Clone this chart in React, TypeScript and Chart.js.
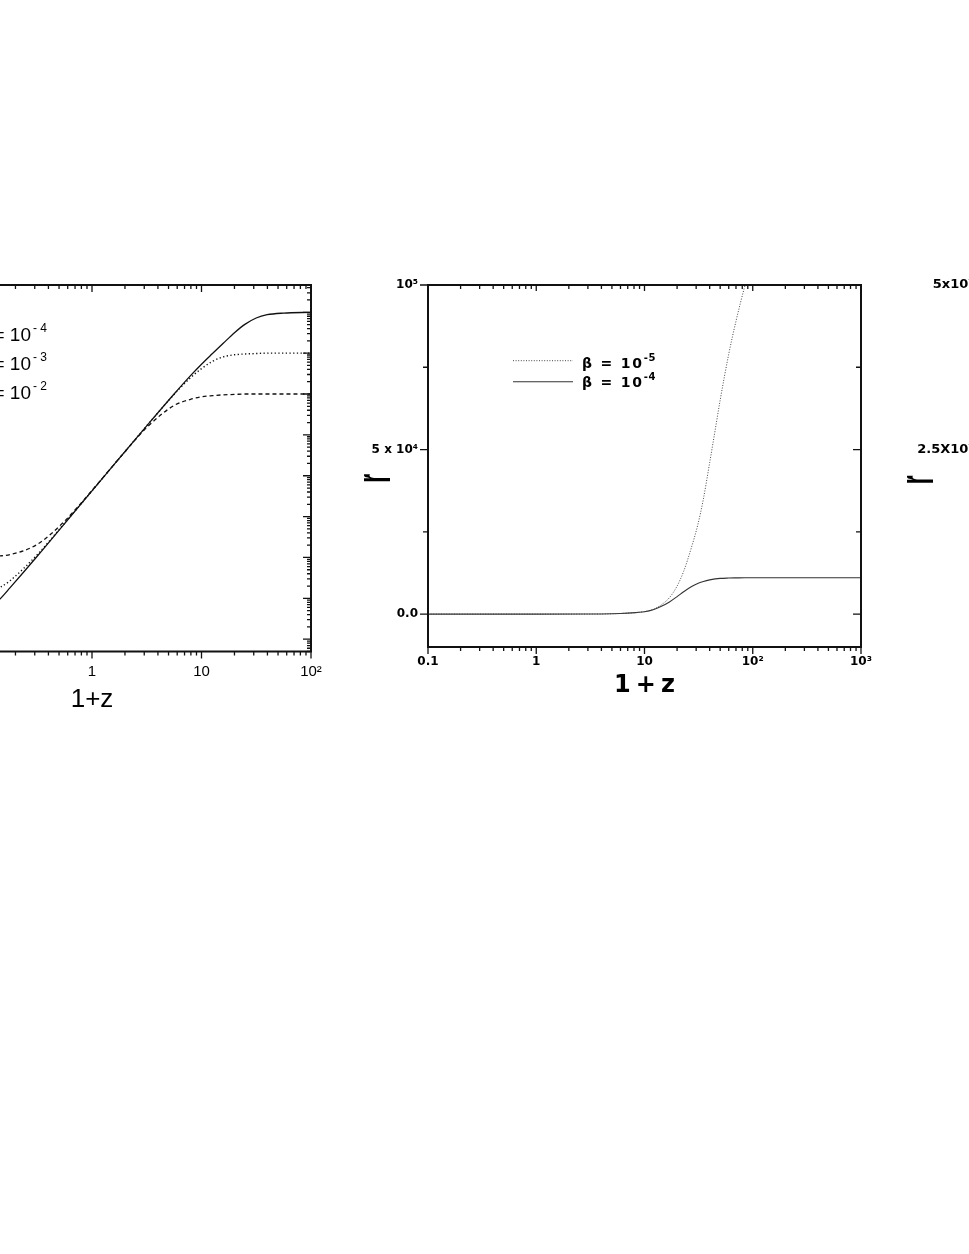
import React, { useEffect, useRef } from 'react';
import { Chart, registerables } from 'chart.js';
Chart.register(...registerables);

// ---------------- Left panel data (log-log) ----------------
const leftZ = [0.01, 0.0178, 0.0316, 0.0562, 0.1, 0.145, 0.178, 0.316, 0.562, 1, 1.78, 3.16, 5.62, 7.94, 10, 12.6, 15.8, 20, 25.1, 31.6, 39.8, 56.2, 100];
const leftBeta4 = [1.0, 1.01, 1.07, 1.43, 3.69, 9.7, 18, 107, 676, 4270, 2.69e4, 1.66e5, 1.0e6, 2.82e6, 5.37e6, 9.77e6, 1.74e7, 3.16e7, 5.13e7, 7.24e7, 8.71e7, 9.55e7, 1.0e8];
const leftBeta3 = [10, 10, 10.1, 10.4, 12.6, 18.6, 26.9, 117, 692, 4270, 2.69e4, 1.66e5, 9.77e5, 2.51e6, 4.17e6, 6.31e6, 8.13e6, 9.12e6, 9.55e6, 9.77e6, 1.0e7, 1.0e7, 1.0e7];
const leftBeta2 = [100, 100, 100, 100.5, 102, 109, 117, 209, 776, 4370, 2.69e4, 1.51e5, 5.25e5, 7.41e5, 8.51e5, 9.12e5, 9.55e5, 9.77e5, 1.0e6, 1.0e6, 1.0e6, 1.0e6, 1.0e6];
const leftXTickValues = [0.01, 0.1, 1, 10, 100];
const leftXTickLabels = ['0.01', '0.1', '1', '10', '10²'];
const leftLegendBase = ['β = 10', 'β = 10', 'β = 10'];
const leftLegendSup = ['- 4', '- 3', '- 2'];
const leftXTitle = '1+z';

// ---------------- Middle panel data ----------------
const midZ = [0.1, 0.3, 1, 3, 5, 7, 10, 12, 14, 17, 20, 23, 27, 31, 35, 40, 45, 50, 60, 70, 85, 100, 200, 500, 1000];
const midBeta5 = [0, 0, 0, 10, 100, 300, 750, 1400, 2600, 5000, 8500, 13000, 20000, 27000, 35000, 46000, 56000, 65000, 79000, 89000, 100000, 108000];
const midBeta4 = [0, 0, 0, 10, 100, 300, 700, 1300, 2200, 3700, 5300, 6800, 8300, 9300, 9900, 10400, 10700, 10850, 10950, 11000, 11050, 11050, 11050, 11050, 11050];
const midXTickValues = [0.1, 1, 10, 100, 1000];
const midXTickLabels = ['0.1', '1', '10', '10²', '10³'];
const midYTickValues = [0, 25000, 50000, 75000, 100000];
const midYMajorValues = [0, 50000, 100000];
const midYTickLabels = ['0.0', '5 x 10⁴', '10⁵'];
const midLegendBase = ['β = 10', 'β = 10'];
const midLegendSup = ['-5', '-4'];
const midXTitle = '1+z';
const midYTitle = 'r';

// ---------------- Right panel (mostly cropped) ----------------
const rightYTickValues = [0, 1.25e7, 2.5e7, 3.75e7, 5e7];
const rightYMajorValues = [0, 2.5e7, 5e7];
const rightYTickLabels = ['', '2.5X10⁷', '5x10⁷'];
const rightYTitle = 'r';
const rightXTitle = '1+z';

// ---------------- helpers ----------------
type Tick = { value: number; major: boolean };
function logTicks(min: number, max: number): Tick[] {
  const out: Tick[] = [];
  for (let e = Math.floor(Math.log10(min)); e <= Math.ceil(Math.log10(max)); e++) {
    for (let m = 1; m <= 9; m++) {
      const v = m * Math.pow(10, e);
      if (v >= min * 0.999999 && v <= max * 1.000001) out.push({ value: v, major: m === 1 });
    }
  }
  return out;
}
function listTicks(values: number[], majors: number[]): Tick[] {
  return values.map((v) => ({ value: v, major: majors.indexOf(v) >= 0 }));
}
function lookup(values: number[], labels: string[]) {
  return (v: number) => {
    const i = values.findIndex((t) => Math.abs(t - v) <= Math.abs(t) * 1e-6 + 1e-9);
    return i >= 0 ? labels[i] : '';
  };
}
function zip(xs: number[], ys: number[]) {
  return ys.map((y, i) => ({ x: xs[i], y }));
}

type Side = [number, number];
type DecorText = {
  text: string; font: string; ax: 'left' | 'center' | 'right'; ay: 'top' | 'middle' | 'bottom';
  dx: number; dy: number; align: CanvasTextAlign; spacing?: number;
  rotate?: boolean; sx?: number; sy?: number;
  sup?: { text: string; font: string; gap: number; dy: number; spacing?: number };
};
type DecorSample = { x0: number; x1: number; y: number; dash: number[]; width: number; color: string };
type DecorCfg = {
  frameWidth: number; tickWidth: number;
  ticks: { left: Side; right: Side; top: Side; bottom: Side };
  samples: DecorSample[]; texts: DecorText[];
};

function decorPlugin(cfg: DecorCfg) {
  return {
    id: 'decor',
    afterDraw(chart: any) {
      const { ctx, chartArea: a } = chart;
      ctx.save();
      ctx.strokeStyle = '#111';
      ctx.lineWidth = cfg.frameWidth;
      ctx.strokeRect(a.left, a.top, a.right - a.left, a.bottom - a.top);
      ctx.lineWidth = cfg.tickWidth;
      const T = cfg.ticks;
      const xs = chart.scales.x, ys = chart.scales.y;
      ctx.beginPath();
      for (const t of xs.ticks) {
        const p = xs.getPixelForValue(t.value);
        if (p < a.left - 0.5 || p > a.right + 0.5) continue;
        const b = t.major ? T.bottom[0] : T.bottom[1];
        const tp = t.major ? T.top[0] : T.top[1];
        ctx.moveTo(p, a.bottom); ctx.lineTo(p, a.bottom + b);
        ctx.moveTo(p, a.top); ctx.lineTo(p, a.top + tp);
      }
      for (const t of ys.ticks) {
        const p = ys.getPixelForValue(t.value);
        if (p < a.top - 0.5 || p > a.bottom + 0.5) continue;
        const l = t.major ? T.left[0] : T.left[1];
        const r = t.major ? T.right[0] : T.right[1];
        ctx.moveTo(a.left, p); ctx.lineTo(a.left - l, p);
        ctx.moveTo(a.right, p); ctx.lineTo(a.right - r, p);
      }
      ctx.stroke();
      for (const s of cfg.samples) {
        ctx.save();
        ctx.lineWidth = s.width; ctx.strokeStyle = s.color; ctx.setLineDash(s.dash);
        ctx.beginPath();
        ctx.moveTo(a.left + s.x0, a.top + s.y); ctx.lineTo(a.left + s.x1, a.top + s.y);
        ctx.stroke();
        ctx.restore();
      }
      ctx.fillStyle = '#000';
      for (const t of cfg.texts) {
        const bx = t.ax === 'left' ? a.left : t.ax === 'right' ? a.right : (a.left + a.right) / 2;
        const by = t.ay === 'top' ? a.top : t.ay === 'bottom' ? a.bottom : (a.top + a.bottom) / 2;
        const x = bx + t.dx, y = by + t.dy;
        ctx.save();
        ctx.font = t.font;
        (ctx as any).letterSpacing = (t.spacing || 0) + 'px';
        ctx.textBaseline = 'alphabetic';
        ctx.textAlign = t.align;
        if (t.rotate) {
          ctx.translate(x, y);
          ctx.rotate(-Math.PI / 2);
          ctx.scale(t.sx || 1, t.sy || 1);
          ctx.fillText(t.text, 0, 0);
        } else {
          ctx.fillText(t.text, x, y);
          if (t.sup) {
            const w = ctx.measureText(t.text).width;
            const right = t.align === 'right' ? x : t.align === 'center' ? x + w / 2 : x + w;
            ctx.font = t.sup.font;
            (ctx as any).letterSpacing = (t.sup.spacing || 0) + 'px';
            ctx.textAlign = 'left';
            ctx.fillText(t.sup.text, right + t.sup.gap, y + t.sup.dy);
          }
        }
        ctx.restore();
      }
      ctx.restore();
    },
  };
}

type AxisCfg = {
  type: 'logarithmic' | 'linear'; min: number; max: number; ticks: Tick[];
  label: (v: number) => string; font: any; padding: number; showLabels: boolean;
};
type PanelCfg = {
  left: number; top: number; width: number; height: number;
  yWidth: number; xHeight: number; padTop: number; padRight: number;
  x: AxisCfg; y: AxisCfg; datasets: any[]; decor: DecorCfg;
};

function scaleOpts(ax: AxisCfg, pos: 'bottom' | 'left', size: number) {
  return {
    type: ax.type, position: pos, min: ax.min, max: ax.max, bounds: 'data',
    grid: { display: false, drawTicks: false }, border: { display: false },
    ticks: {
      display: ax.showLabels, autoSkip: false, maxRotation: 0, minRotation: 0,
      padding: ax.padding, font: ax.font, color: '#000',
      callback: (v: any) => ax.label(Number(v)),
    },
    afterBuildTicks: (s: any) => { s.ticks = ax.ticks.map((t) => ({ value: t.value, major: t.major })); },
    afterFit: (s: any) => { if (pos === 'bottom') s.height = size; else s.width = size; },
  };
}

function Panel({ cfg }: { cfg: PanelCfg }) {
  const ref = useRef<HTMLCanvasElement>(null);
  useEffect(() => {
    const chart = new Chart(ref.current as HTMLCanvasElement, {
      type: 'line',
      data: { datasets: cfg.datasets },
      options: {
        responsive: false, animation: false, devicePixelRatio: 1,
        layout: { padding: { top: cfg.padTop, right: cfg.padRight, left: 0, bottom: 0 } },
        plugins: { legend: { display: false }, tooltip: { enabled: false }, title: { display: false } },
        elements: { point: { radius: 0 } },
        scales: {
          x: scaleOpts(cfg.x, 'bottom', cfg.xHeight) as any,
          y: scaleOpts(cfg.y, 'left', cfg.yWidth) as any,
        },
      },
      plugins: [decorPlugin(cfg.decor)],
    } as any);
    return () => chart.destroy();
  }, [cfg]);
  return (
    <canvas
      ref={ref}
      width={cfg.width}
      height={cfg.height}
      style={{ position: 'absolute', left: cfg.left, top: cfg.top, width: cfg.width, height: cfg.height }}
    />
  );
}

const line = (data: any[], dash: number[], color: string, width: number) => ({
  data, borderColor: color, borderWidth: width, borderDash: dash, pointRadius: 0, fill: false,
  cubicInterpolationMode: 'monotone', spanGaps: false,
});

const DJB = (s: number) => ({ family: '"DejaVu Sans"', size: s, weight: 'bold' });
const LIB = (s: number) => ({ family: '"Liberation Sans"', size: s, weight: 'normal' });

const leftCfg: PanelCfg = {
  left: -220, top: 250, width: 560, height: 480, yWidth: 93, xHeight: 78.5, padTop: 35, padRight: 29,
  x: { type: 'logarithmic', min: 0.01, max: 100, ticks: logTicks(0.01, 100), label: lookup(leftXTickValues, leftXTickLabels), font: LIB(15), padding: 11, showLabels: true },
  y: { type: 'logarithmic', min: 0.5, max: 4.65e8, ticks: logTicks(0.5, 4.65e8), label: () => '', font: LIB(15), padding: 8, showLabels: false },
  datasets: [
    line(zip(leftZ, leftBeta4), [], '#111', 1.3),
    line(zip(leftZ, leftBeta3), [1.3, 2.4], '#111', 1.4),
    line(zip(leftZ, leftBeta2), [4, 3], '#111', 1.3),
  ],
  decor: {
    frameWidth: 2, tickWidth: 1.3,
    ticks: { left: [8, 4], right: [8, 4], top: [7, 4], bottom: [7, 4] },
    samples: [
      { x0: 40, x1: 100, y: 51, dash: [], width: 1.3, color: '#111' },
      { x0: 40, x1: 100, y: 80, dash: [1.3, 2.4], width: 1.4, color: '#111' },
      { x0: 40, x1: 100, y: 109, dash: [4, 3], width: 1.3, color: '#111' },
    ],
    texts: [
      ...leftLegendBase.map((t, i) => ({
        text: t, font: '19px "Liberation Sans"', ax: 'left' as const, ay: 'top' as const, dx: 158, dy: 56 + i * 29, align: 'right' as CanvasTextAlign,
        sup: { text: leftLegendSup[i], font: '12px "Liberation Sans"', gap: 2, dy: -9 },
      })),
      { text: leftXTitle, font: '26px "Liberation Sans"', ax: 'center', ay: 'bottom', dx: 0, dy: 55.5, align: 'center' },
    ],
  },
};

const midCfg: PanelCfg = {
  left: 340, top: 250, width: 540, height: 470, yWidth: 88, xHeight: 73, padTop: 35, padRight: 19,
  x: { type: 'logarithmic', min: 0.1, max: 1000, ticks: logTicks(0.1, 1000), label: lookup(midXTickValues, midXTickLabels), font: DJB(12), padding: 8, showLabels: true },
  y: { type: 'linear', min: -10000, max: 100000, ticks: listTicks(midYTickValues, midYMajorValues), label: lookup(midYMajorValues, midYTickLabels), font: DJB(12), padding: 10, showLabels: true },
  datasets: [
    line(zip(midZ, midBeta5), [1, 1.6], '#444', 1),
    line(zip(midZ, midBeta4), [], '#333', 1.1),
  ],
  decor: {
    frameWidth: 2, tickWidth: 1.3,
    ticks: { left: [8, 5], right: [8, 5], top: [6, 4], bottom: [7, 4] },
    samples: [
      { x0: 85, x1: 145, y: 75.7, dash: [1, 1.6], width: 1, color: '#444' },
      { x0: 85, x1: 145, y: 96.7, dash: [], width: 1.1, color: '#333' },
    ],
    texts: [
      ...midLegendBase.map((t, i) => ({
        text: t, font: 'bold 14px "DejaVu Sans"', ax: 'left' as const, ay: 'top' as const, dx: 154, dy: 83 + i * 19, align: 'left' as CanvasTextAlign, spacing: 1.8,
        sup: { text: midLegendSup[i], font: 'bold 10px "DejaVu Sans"', gap: 0, dy: -7, spacing: 0.5 },
      })),
      { text: midXTitle, font: 'bold 24px "DejaVu Sans"', ax: 'center', ay: 'bottom', dx: 2.5, dy: 45, align: 'center', spacing: 5 },
      { text: midYTitle, font: 'bold 32px "Liberation Sans"', ax: 'left', ay: 'middle', dx: -38, dy: 12.5, align: 'center', rotate: true, sx: 0.7, sy: 1.5 },
    ],
  },
};

const rightCfg: PanelCfg = {
  left: 880, top: 250, width: 540, height: 470, yWidth: 104, xHeight: 73, padTop: 35, padRight: 19,
  x: { type: 'logarithmic', min: 0.1, max: 1000, ticks: logTicks(0.1, 1000), label: lookup(midXTickValues, midXTickLabels), font: DJB(12), padding: 8, showLabels: true },
  y: { type: 'linear', min: -5e6, max: 5e7, ticks: listTicks(rightYTickValues, rightYMajorValues), label: lookup(rightYMajorValues, rightYTickLabels), font: DJB(13), padding: 10, showLabels: true },
  datasets: [],
  decor: {
    frameWidth: 2, tickWidth: 1.3,
    ticks: { left: [8, 5], right: [8, 5], top: [6, 4], bottom: [7, 4] },
    samples: [],
    texts: [
      { text: rightXTitle, font: 'bold 24px "DejaVu Sans"', ax: 'center', ay: 'bottom', dx: 2.5, dy: 45, align: 'center', spacing: 5 },
      { text: rightYTitle, font: 'bold 32px "Liberation Sans"', ax: 'left', ay: 'middle', dx: -51, dy: 14, align: 'center', rotate: true, sx: 0.7, sy: 1.5 },
    ],
  },
};

export default function App() {
  return (
    <div style={{ position: 'fixed', left: 0, top: 0, width: 969, height: 1254, overflow: 'hidden', background: '#fff' }}>
      <Panel cfg={leftCfg} />
      <Panel cfg={midCfg} />
      <Panel cfg={rightCfg} />
    </div>
  );
}
